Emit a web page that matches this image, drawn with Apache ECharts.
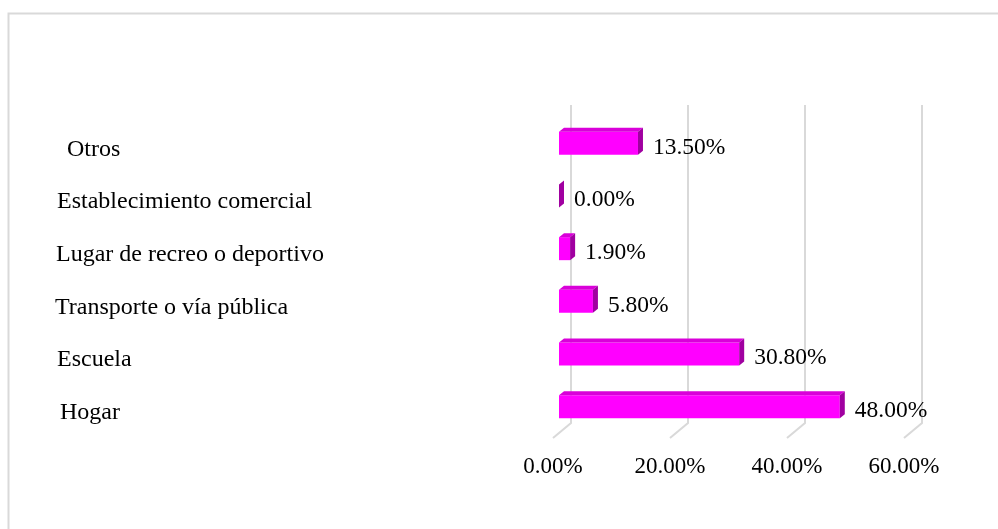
<!DOCTYPE html>
<html>
<head>
<meta charset="utf-8">
<script src="https://cdn.jsdelivr.net/npm/echarts@6/dist/echarts.min.js"></script>
<style>
html,body{margin:0;padding:0;background:#fff;}
#chart{width:998px;height:529px;}
</style>
</head>
<body>
<div id="chart"></div>
<script>
// ---- data ----
const categories = ['Hogar', 'Escuela', 'Transporte o vía pública', 'Lugar de recreo o deportivo', 'Establecimiento comercial', 'Otros'];
const values = [48.0, 30.8, 5.8, 1.9, 0.0, 13.5];
const xTicks = [0, 20, 40, 60];

// ---- style ----
const FONT = 'Liberation Serif';
const FS = 23.5;
const YFS = 24;
// small horizontal indents of the category labels (px), as in the reference
const labelIndent = { 'Otros': 12, 'Hogar': 5, 'Escuela': 2, 'Transporte o vía pública': 0, 'Lugar de recreo o deportivo': 1, 'Establecimiento comercial': 2 };

const chart = echarts.init(document.getElementById('chart'));
function fmt(v) { return v.toFixed(2) + '%'; }

const indentKeys = Object.keys(labelIndent);
const rich = {};
indentKeys.forEach((k, i) => {
  rich['c' + i] = { fontFamily: FONT, fontSize: YFS, color: '#000', padding: [0, 0, 0, labelIndent[k]] };
});

const gridTop = 116, gridHeight = 316;

chart.setOption({
  animation: false,
  backgroundColor: '#ffffff',
  graphic: [{
    type: 'rect',
    shape: { x: 8.5, y: 13.5, width: 1200, height: 700 },
    style: { fill: 'none', stroke: '#d9d9d9', lineWidth: 2 },
    silent: true
  }],
  grid: { left: 559, width: 351, top: gridTop, height: gridHeight, containLabel: false },
  xAxis: {
    type: 'value', min: 0, max: 60, interval: 20,
    axisLine: { show: false }, axisTick: { show: false }, splitLine: { show: false },
    axisLabel: {
      formatter: v => fmt(v),
      fontFamily: FONT, fontSize: 23, color: '#000',
      margin: 23, padding: [0, 12, 0, 0]
    }
  },
  yAxis: {
    type: 'category', data: categories,
    axisLine: { show: false }, axisTick: { show: false }, splitLine: { show: false },
    axisLabel: {
      align: 'left', margin: 504, verticalAlign: 'top', lineHeight: 14,
      fontFamily: FONT, fontSize: YFS, color: '#000',
      formatter: v => '{c' + indentKeys.indexOf(v) + '|' + v + '}',
      rich: rich
    }
  },
  series: [
    {
      type: 'custom',
      z: 1,
      silent: true,
      data: xTicks.map(t => [t, 0]),
      encode: { x: 0, y: 1 },
      renderItem: function (params, api) {
        const cs = params.coordSys;
        const x = api.coord([api.value(0), 0])[0];
        const top = cs.y - 11;
        const vb = cs.y + cs.height - 9;
        const sb = cs.y + cs.height + 6;
        return {
          type: 'polyline',
          shape: { points: [[x + 12, top], [x + 12, vb], [x - 6, sb]] },
          style: { stroke: '#d9d9d9', lineWidth: 2, fill: 'none' }
        };
      }
    },
    {
      type: 'custom',
      z: 2,
      data: values.map((v, i) => [v, i]),
      encode: { x: 0, y: 1 },
      renderItem: function (params, api) {
        const v = api.value(0);
        const idx = api.value(1);
        const p0 = api.coord([0, idx]);
        const p1 = api.coord([v, idx]);
        const x0 = p0[0], x1 = p1[0], yc = p0[1] + 1;
        const h = 23, d = 5, dy = 4;
        const yt = yc - h / 2, yb = yc + h / 2;
        const children = [];
        if (x1 - x0 > 0.5) {
          children.push({ type: 'rect', shape: { x: x0, y: yt, width: x1 - x0, height: h }, style: { fill: '#ff00ff' } });
          children.push({ type: 'polygon', shape: { points: [[x0, yt], [x1, yt], [x1 + d, yt - dy], [x0 + d, yt - dy]] }, style: { fill: '#d900d9' } });
        }
        children.push({ type: 'polygon', shape: { points: [[x1, yt], [x1 + d, yt - dy], [x1 + d, yb - dy], [x1, yb]] }, style: { fill: '#a000a0' } });
        children.push({
          type: 'text',
          style: {
            text: fmt(v), x: x1 + d + 10, y: yc + 4,
            fontFamily: FONT, fontSize: FS, fill: '#000',
            align: 'left', verticalAlign: 'middle'
          }
        });
        return { type: 'group', children: children };
      }
    }
  ]
});
</script>
</body>
</html>
